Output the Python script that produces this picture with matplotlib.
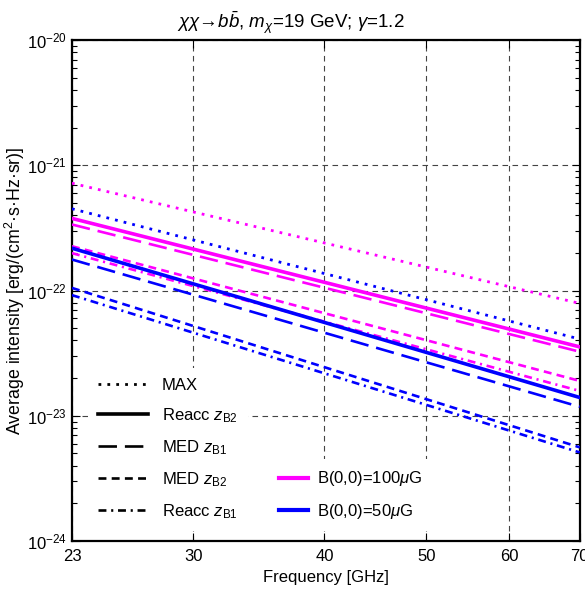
import numpy as np
import matplotlib.pyplot as plt
from matplotlib.lines import Line2D
from matplotlib.ticker import FixedLocator, FixedFormatter, NullLocator, NullFormatter, LogFormatterSciNotation

plt.rcParams['font.family'] = ['Liberation Sans', 'DejaVu Sans']
plt.rcParams['mathtext.fontset'] = 'custom'
plt.rcParams['mathtext.rm'] = 'Liberation Sans'
plt.rcParams['mathtext.it'] = 'Liberation Sans:italic'
plt.rcParams['mathtext.bf'] = 'Liberation Sans:bold'

# frequency end points [GHz]
freq = [23, 70]
xticks = [23, 30, 40, 50, 60, 70]
yticks = [1e-24, 1e-23, 1e-22, 1e-21, 1e-20]

# B(0,0)=100 muG
max_100 = [7.2e-22, 7.9e-23]
reacc2_100 = [3.77e-22, 3.55e-23]
med1_100 = [3.37e-22, 3.25e-23]
med2_100 = [2.26e-22, 1.9e-23]
reacc1_100 = [1.99e-22, 1.58e-23]

# B(0,0)=50 muG
max_50 = [4.5e-22, 4.1e-23]
reacc2_50 = [2.18e-22, 1.4e-23]
med1_50 = [1.77e-22, 1.18e-23]
med2_50 = [1.05e-22, 5.6e-24]
reacc1_50 = [9.2e-23, 5.1e-24]

model_names = ['MAX', r'Reacc $z_{\rm B2}$', r'MED $z_{\rm B1}$',
               r'MED $z_{\rm B2}$', r'Reacc $z_{\rm B1}$']
field_names = [r'B(0,0)=100$\mu$G', r'B(0,0)=50$\mu$G']

# line styles per model
styles = [dict(ls=(0, (1, 2.2)), lw=2.0),
          dict(ls='-', lw=2.6),
          dict(ls=(0, (7, 3)), lw=1.9),
          dict(ls=(0, (3, 2)), lw=1.9),
          dict(ls=(0, (3, 1.8, 0.8, 1.8)), lw=1.9)]
colors = ['#ff00ff', '#0000ff']

fig = plt.figure(figsize=(5.85, 5.90), dpi=100)
ax = fig.add_axes([0.123, 0.083, 0.868, 0.849])

series = [[max_100, reacc2_100, med1_100, med2_100, reacc1_100],
          [max_50, reacc2_50, med1_50, med2_50, reacc1_50]]
for col, group in zip(colors, series):
    for st, vals in zip(styles, group):
        ax.plot(freq, vals, color=col, linestyle=st['ls'], linewidth=st['lw'], zorder=3)

ax.set_xscale('log')
ax.set_yscale('log')
ax.set_xlim(23, 70)
ax.set_ylim(1e-24, 1e-20)
ax.xaxis.set_major_locator(FixedLocator(xticks))
ax.xaxis.set_major_formatter(FixedFormatter([str(t) for t in xticks]))
ax.xaxis.set_minor_locator(NullLocator())
yminor = [m * d for d in yticks[:-1] for m in range(2, 10)]
ax.yaxis.set_major_locator(FixedLocator(yticks))
ax.yaxis.set_major_formatter(LogFormatterSciNotation())
ax.yaxis.set_minor_locator(FixedLocator(yminor))
ax.yaxis.set_minor_formatter(NullFormatter())
ax.tick_params(which='both', direction='in', top=True, right=True, labelsize=12)
ax.tick_params(which='major', length=6, width=0.8)
ax.tick_params(which='minor', length=3.5, width=0.8)
ax.tick_params(axis='x', pad=6)
for sp in ax.spines.values():
    sp.set_linewidth(1.6)

ax.grid(True, which='major', color='#444444', linestyle=(0, (5, 4)), linewidth=0.8, zorder=1)

ax.set_xlabel('Frequency [GHz]', fontsize=12)
ax.set_ylabel('Average intensity [erg/(cm$^2$·s·Hz·sr)]', fontsize=12.8)
ax.yaxis.set_label_coords(-0.088, 0.5)
fig.suptitle(r'$\chi\chi$→$b\bar{b}$, $m_\chi$=19 GeV; $\gamma$=1.2', x=0.497, y=0.985, fontsize=13.5)

h1 = [Line2D([], [], color='k', linestyle=st['ls'], linewidth=st['lw']) for st in styles]
leg1 = ax.legend(h1, model_names, loc='lower left', bbox_to_anchor=(0.016, 0.004),
                 fontsize=12, handlelength=3.0, labelspacing=0.8, frameon=True,
                 facecolor='white', edgecolor='none', framealpha=1, borderpad=0.6)
leg1.set_zorder(5)
ax.add_artist(leg1)

h2 = [Line2D([], [], color=c, linewidth=3) for c in colors]
leg2 = ax.legend(h2, field_names, loc='lower left', bbox_to_anchor=(0.372, 0.004),
                 fontsize=12, handlelength=1.7, handletextpad=0.55, labelspacing=0.8,
                 frameon=True, facecolor='white', edgecolor='none', framealpha=1,
                 borderpad=0.6)
leg2.set_zorder(5)

fig.savefig('out.png', dpi=100)
